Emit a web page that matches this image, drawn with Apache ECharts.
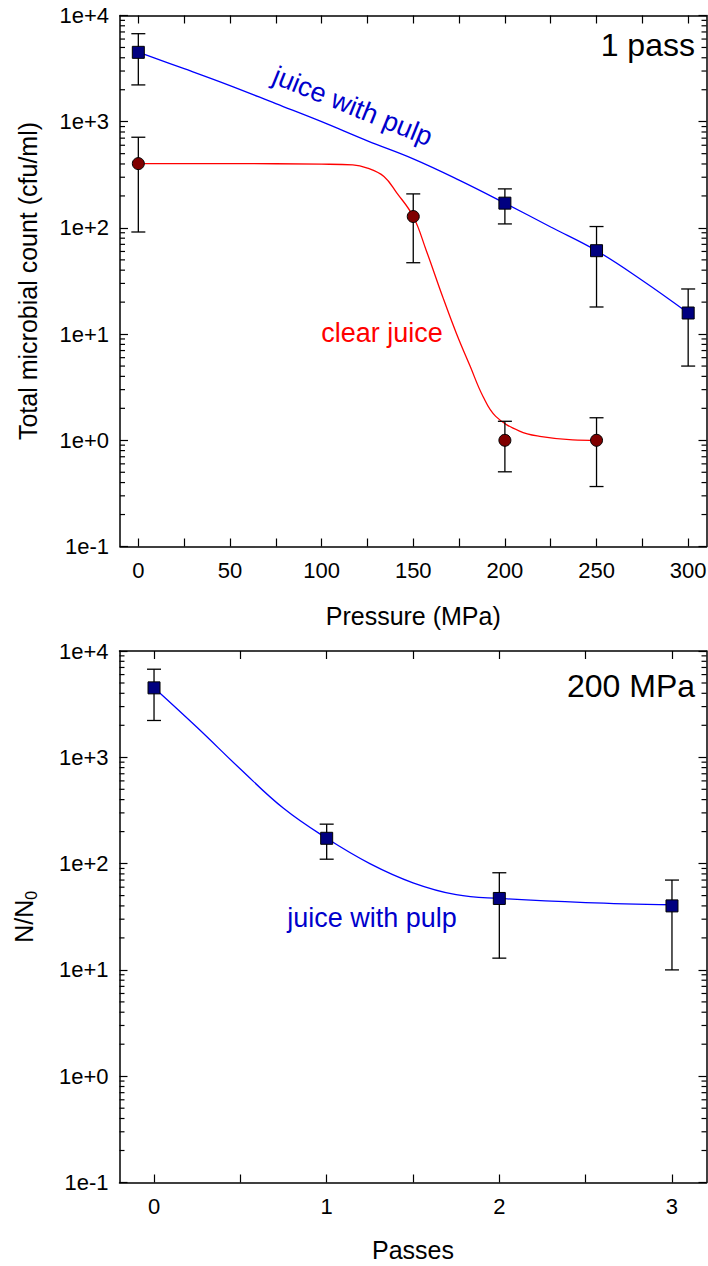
<!DOCTYPE html>
<html>
<head>
<meta charset="utf-8">
<script src="https://cdn.jsdelivr.net/npm/echarts@6/dist/echarts.min.js"></script>
<style>
  html, body { margin: 0; padding: 0; background: #fff; }
  #chart { width: 708px; height: 1266px; }
</style>
</head>
<body>
<div id="chart"></div>
<script>
// ---- One pass: total count against pressure ----
const pulpPressure = [0, 200, 250, 300];
const pulpCount = [4500, 171, 61, 15.8];
const pulpLow = [2220, 109, 18, 5.0];
const pulpHigh = [6740, 233, 103, 26.6];

const clearPressure = [0, 150, 200, 250];
const clearCount = [403, 128, 1.0, 1.0];
const clearLow = [91.5, 47, 0.505, 0.367];
const clearHigh = [714, 209, 1.51, 1.63];

// fitted curves
const pulpFitPressure = [0, 25, 50, 75, 100, 125, 150, 175, 200, 225, 250, 275, 300];
const pulpFitCount = [4510, 3160, 2190, 1480, 1000, 660, 447, 282, 171, 102, 61, 32, 15.8];
const clearFitPressure = [0, 50, 100, 117, 125, 134, 141, 150, 157, 166, 173.5, 181, 188, 195, 208, 219, 237, 250];
const clearFitCount = [403, 403, 398, 393, 366, 305, 214, 128, 62, 22.6, 10.2, 5.0, 2.6, 1.68, 1.22, 1.09, 1.01, 1.0];

// ---- 200 MPa: ratio against number of passes ----
const passes = [0, 1, 2, 3];
const passCount = [4500, 173, 47, 40];
const passLow = [2220, 110, 12.9, 10];
const passHigh = [6740, 235, 82, 70];
const passFitX = [0, 0.25, 0.5, 0.75, 1, 1.25, 1.5, 1.75, 2, 2.5, 3];
const passFitCount = [4510, 1905, 776, 331, 173, 100, 66, 51, 47, 43, 41];

// ---- axes ----
const pressureTicks = [0, 25, 50, 75, 100, 125, 150, 175, 200, 225, 250, 275, 300];
const pressureTickLabels = [0, 50, 100, 150, 200, 250, 300];
const passTicks = [0, 0.5, 1, 1.5, 2, 2.5, 3];
const passTickLabels = [0, 1, 2, 3];
const countTickValues = [0.1, 1, 10, 100, 1000, 10000];
const countTickLabels = ['1e-1', '1e+0', '1e+1', '1e+2', '1e+3', '1e+4'];

const FONT = "'Liberation Sans', Arial, Helvetica, sans-serif";
const BLUE = '#0000ff';
const RED = '#ff0000';
const TICK_FONT = 22;
const TITLE_FONT = 25;

// minor log ticks 2..9 within each decade
const minorCountTicks = [];
for (let i = 0; i < countTickValues.length - 1; i++) {
  for (let m = 2; m <= 9; m++) minorCountTicks.push(m * countTickValues[i]);
}

const zip = (a, b) => a.map((v, i) => [v, b[i]]);
const zip3 = (a, b, c) => a.map((v, i) => [v, b[i], c[i]]);

function countLabel(value) {
  const e = Math.round(Math.log10(value));
  const idx = countTickValues.findIndex(v => Math.round(Math.log10(v)) === e);
  return idx >= 0 ? countTickLabels[idx] : '';
}

function xAxes(gridIndex, min, max, ticks, labels, name, nameGap) {
  const line = { show: true, onZero: false, lineStyle: { color: '#000', width: 1.5 } };
  const tick = { show: true, inside: true, length: 8, customValues: ticks, lineStyle: { color: '#000', width: 1.2 } };
  return [
    {
      gridIndex, type: 'value', position: 'bottom', min, max,
      name, nameLocation: 'middle', nameGap,
      nameTextStyle: { fontSize: TITLE_FONT, color: '#000', fontFamily: FONT },
      axisLine: line, axisTick: tick,
      axisLabel: { customValues: labels, fontSize: TICK_FONT, color: '#000', margin: 13, fontFamily: FONT },
      splitLine: { show: false }
    },
    {
      gridIndex, type: 'value', position: 'top', min, max,
      axisLine: line, axisTick: tick,
      axisLabel: { show: false }, splitLine: { show: false }
    }
  ];
}

function yAxes(gridIndex, name, nameTextStyle, nameGap) {
  const line = { show: true, onZero: false, lineStyle: { color: '#000', width: 1.5 } };
  const tick = { show: true, inside: true, length: 8, lineStyle: { color: '#000', width: 1.2 } };
  return [
    {
      gridIndex, type: 'log', logBase: 10, position: 'left', min: 0.1, max: 10000,
      name, nameLocation: 'middle', nameGap, nameTextStyle,
      axisLine: line, axisTick: tick,
      axisLabel: { formatter: countLabel, fontSize: TICK_FONT, color: '#000', margin: 11, fontFamily: FONT },
      splitLine: { show: false }, minorTick: { show: false }
    },
    {
      gridIndex, type: 'log', logBase: 10, position: 'right', min: 0.1, max: 10000,
      axisLine: line, axisTick: tick,
      axisLabel: { show: false }, splitLine: { show: false }
    }
  ];
}

function renderErrorBar(params, api) {
  const x = api.value(0);
  const lo = api.coord([x, api.value(1)]);
  const hi = api.coord([x, api.value(2)]);
  const w = 7;
  const style = { stroke: '#000', lineWidth: 1.3 };
  return {
    type: 'group',
    children: [
      { type: 'line', shape: { x1: lo[0], y1: lo[1], x2: hi[0], y2: hi[1] }, style },
      { type: 'line', shape: { x1: lo[0] - w, y1: lo[1], x2: lo[0] + w, y2: lo[1] }, style },
      { type: 'line', shape: { x1: hi[0] - w, y1: hi[1], x2: hi[0] + w, y2: hi[1] }, style }
    ]
  };
}

function renderMinorTick(params, api) {
  const cs = params.coordSys;
  const y = api.coord([api.value(0), api.value(1)])[1];
  const style = { stroke: '#000', lineWidth: 1.2 };
  return {
    type: 'group',
    children: [
      { type: 'line', shape: { x1: cs.x, y1: y, x2: cs.x + 5, y2: y }, style },
      { type: 'line', shape: { x1: cs.x + cs.width - 5, y1: y, x2: cs.x + cs.width, y2: y }, style }
    ]
  };
}

function fitLine(xi, yi, data, color) {
  return {
    type: 'line', xAxisIndex: xi, yAxisIndex: yi, data,
    showSymbol: false, smooth: 0.4, silent: true,
    lineStyle: { color, width: 1.3 }, z: 2
  };
}
function errorBars(xi, yi, data) {
  return {
    type: 'custom', xAxisIndex: xi, yAxisIndex: yi, data,
    encode: { x: 0, y: [1, 2] }, renderItem: renderErrorBar, silent: true, z: 3
  };
}
function markers(xi, yi, data, symbol, color) {
  return {
    type: 'scatter', xAxisIndex: xi, yAxisIndex: yi, data,
    symbol, symbolSize: 12, silent: true,
    itemStyle: { color, borderColor: '#000', borderWidth: 1, opacity: 1 }, z: 4
  };
}
function minorTicks(xi, yi) {
  return {
    type: 'custom', xAxisIndex: xi, yAxisIndex: yi,
    data: minorCountTicks.map(v => [0, v]),
    renderItem: renderMinorTick, silent: true, z: 5
  };
}

const chart = echarts.init(document.getElementById('chart'), null, { renderer: 'svg' });

const option = {
  animation: false,
  backgroundColor: '#fff',
  textStyle: { fontFamily: FONT },
  grid: [
    { left: 120, right: 1.5, top: 15.5, height: 531, outerBoundsMode: 'none' },
    { left: 119.5, right: 1.5, top: 651, height: 531.5, outerBoundsMode: 'none' }
  ],
  xAxis: [
    ...xAxes(0, -10, 310, pressureTicks, pressureTickLabels, 'Pressure (MPa)', 57),
    ...xAxes(1, -0.2, 3.2, passTicks, passTickLabels, 'Passes', 55)
  ],
  yAxis: [
    ...yAxes(0, 'Total microbial count (cfu/ml)',
      { fontSize: TITLE_FONT, color: '#000', fontFamily: FONT }, 80),
    ...yAxes(1, 'N/N{sub|0}', {
      fontSize: TITLE_FONT, color: '#000', fontFamily: FONT,
      rich: {
        sub: { fontSize: 16, color: '#000', fontFamily: FONT, padding: [16, 0, 0, 0] }
      }
    }, 80)
  ],
  series: [
    fitLine(0, 0, zip(pulpFitPressure, pulpFitCount), BLUE),
    fitLine(0, 0, zip(clearFitPressure, clearFitCount), RED),
    errorBars(0, 0, zip3(pulpPressure, pulpLow, pulpHigh)),
    errorBars(0, 0, zip3(clearPressure, clearLow, clearHigh)),
    markers(0, 0, zip(pulpPressure, pulpCount), 'rect', '#000080'),
    markers(0, 0, zip(clearPressure, clearCount), 'circle', '#800000'),
    minorTicks(0, 0),

    fitLine(2, 2, zip(passFitX, passFitCount), BLUE),
    errorBars(2, 2, zip3(passes, passLow, passHigh)),
    markers(2, 2, zip(passes, passCount), 'rect', '#000080'),
    minorTicks(2, 2)
  ]
};

chart.setOption(option);

// text annotations placed in data coordinates
function px(xi, yi, pt) {
  return chart.convertToPixel({ xAxisIndex: xi, yAxisIndex: yi }, pt);
}
const pA = px(0, 0, [303.7, 5330]);
const pB = px(0, 0, [117, 1400]);
const pC = px(0, 0, [133, 10.2]);
const pD = px(2, 2, [3.134, 4690]);
const pE = px(2, 2, [1.263, 30.8]);

chart.setOption({
  graphic: [
    { type: 'text', x: pA[0], y: pA[1], silent: true,
      style: { text: '1 pass', fontSize: 32, fontFamily: FONT, fill: '#000', align: 'right', verticalAlign: 'middle' } },
    { type: 'text', x: pB[0], y: pB[1], rotation: -22 * Math.PI / 180, silent: true,
      style: { text: 'juice with pulp', fontSize: 27, fontFamily: FONT, fill: '#0000cc', align: 'center', verticalAlign: 'middle' } },
    { type: 'text', x: pC[0], y: pC[1], silent: true,
      style: { text: 'clear juice', fontSize: 27, fontFamily: FONT, fill: RED, align: 'center', verticalAlign: 'middle' } },
    { type: 'text', x: pD[0], y: pD[1], silent: true,
      style: { text: '200 MPa', fontSize: 32, fontFamily: FONT, fill: '#000', align: 'right', verticalAlign: 'middle' } },
    { type: 'text', x: pE[0], y: pE[1], silent: true,
      style: { text: 'juice with pulp', fontSize: 27, fontFamily: FONT, fill: '#0000cc', align: 'center', verticalAlign: 'middle' } }
  ]
});
</script>
</body>
</html>
